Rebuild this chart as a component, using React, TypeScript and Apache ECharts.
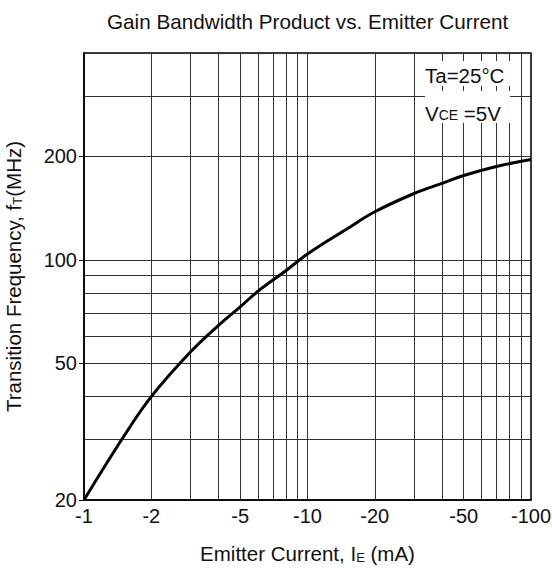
import React, { useEffect, useRef } from 'react';
import * as echarts from 'echarts';

// |I_E| in mA (the axis shows negative emitter current)
const emitterCurrent = [1, 1.5, 2, 3, 4, 5, 6, 8, 10, 15, 20, 30, 40, 50, 70, 100];
// f_T in MHz
const transitionFreq = [20, 30.5, 40, 54, 64.5, 73, 81, 93, 104, 123, 138, 156, 167, 176, 187, 196];

const xTickLabels = [1, 2, 5, 10, 20, 50, 100];
const xGridValues = [1, 2, 3, 4, 5, 6, 7, 8, 9, 10, 20, 30, 40, 50, 60, 70, 80, 90, 100];
const yTickLabels = [20, 50, 100, 200];
const yGridValues = [20, 30, 40, 50, 60, 70, 80, 90, 100, 200, 300, 400];

const FONT = 'Liberation Sans, Arial, Helvetica, sans-serif';
const TXT = '#111';

export default function App() {
  const ref = useRef<HTMLDivElement>(null);
  useEffect(() => {
    document.body.style.margin = '0';
    const chart = echarts.init(ref.current!, null, { renderer: 'svg', width: 552, height: 568 });
    const gridLine = { show: true, lineStyle: { color: '#333', width: 1 } };
    const option: any = {
      animation: false,
      backgroundColor: '#fff',
      title: {
        text: 'Gain Bandwidth Product vs. Emitter Current',
        left: 107,
        top: 10.5,
        padding: 0,
        textStyle: { fontFamily: FONT, fontSize: 20.7, fontWeight: 'normal', color: TXT },
      },
      grid: {
        left: 84, right: 21, top: 53, bottom: 68,
        show: true, borderColor: '#000', borderWidth: 1.5,
        containLabel: false, outerBoundsMode: 'none',
      },
      xAxis: [
        {
          type: 'log', logBase: 10, min: 1, max: 100, position: 'bottom',
          name: 'Emitter Current, I{sub|E} (mA)',
          nameLocation: 'middle', nameGap: 43, nameMoveOverlap: false,
          nameTextStyle: {
            fontFamily: FONT, fontSize: 20.5, color: TXT,
            rich: { sub: { fontFamily: FONT, fontSize: 13, color: TXT, padding: [7, 0, 0, 0] } },
          },
          axisLine: { show: true, lineStyle: { color: '#000', width: 1.5 } },
          axisTick: { show: false, customValues: xTickLabels },
          axisLabel: {
            customValues: xTickLabels, margin: 6, fontFamily: FONT, fontSize: 20, color: TXT,
            formatter: (v: number) => '-' + Math.round(v),
          },
          splitLine: { show: false },
        },
        {
          type: 'log', logBase: 10, min: 1, max: 100, position: 'top',
          axisLine: { show: false },
          axisTick: { show: false, customValues: xGridValues },
          axisLabel: { show: false },
          splitLine: gridLine,
        },
      ],
      yAxis: [
        {
          type: 'log', logBase: 10, min: 20, max: 400, position: 'left',
          name: 'Transition Frequency, f{sub|T}(MHz)',
          nameLocation: 'middle', nameGap: 60, nameRotate: 90, nameMoveOverlap: false,
          nameTextStyle: {
            fontFamily: FONT, fontSize: 20.5, color: TXT,
            rich: { sub: { fontFamily: FONT, fontSize: 13, color: TXT, padding: [7, 0, 0, 0] } },
          },
          axisLine: { show: true, lineStyle: { color: '#000', width: 1.5 } },
          axisTick: { show: true, inside: false, length: 5, customValues: yTickLabels, lineStyle: { color: '#000', width: 1 } },
          axisLabel: {
            customValues: yTickLabels, margin: 7, fontFamily: FONT, fontSize: 20, color: TXT,
            formatter: (v: number) => String(Math.round(v)),
          },
          splitLine: { show: false },
        },
        {
          type: 'log', logBase: 10, min: 20, max: 400, position: 'right',
          axisLine: { show: false },
          axisTick: { show: false, customValues: yGridValues },
          axisLabel: { show: false },
          splitLine: gridLine,
        },
      ],
      graphic: [
        { type: 'rect', z: 10, shape: { x: 425, y: 61, width: 85, height: 25 }, style: { fill: '#fff' } },
        { type: 'rect', z: 10, shape: { x: 425, y: 91, width: 85, height: 32 }, style: { fill: '#fff' } },
        {
          type: 'text', z: 11, x: 425, y: 75,
          style: { text: 'Ta=25°C', fontFamily: FONT, fontSize: 20.5, fill: TXT, align: 'left', verticalAlign: 'middle' },
        },
        {
          type: 'text', z: 11, x: 425, y: 113,
          style: {
            text: 'V{sub|CE} =5V', fontFamily: FONT, fontSize: 20.5, fill: TXT, align: 'left', verticalAlign: 'middle',
            rich: { sub: { fontFamily: FONT, fontSize: 14, fill: TXT, padding: [3, 0, 0, 0] } },
          },
        },
      ],
      series: [
        {
          type: 'line', xAxisIndex: 0, yAxisIndex: 0,
          data: emitterCurrent.map((x, i) => [x, transitionFreq[i]]),
          smooth: 0.4, showSymbol: false, z: 5,
          lineStyle: { color: '#000', width: 3 },
        },
      ],
    };
    chart.setOption(option);
    return () => chart.dispose();
  }, []);
  return <div ref={ref} style={{ width: 552, height: 568 }} />;
}
